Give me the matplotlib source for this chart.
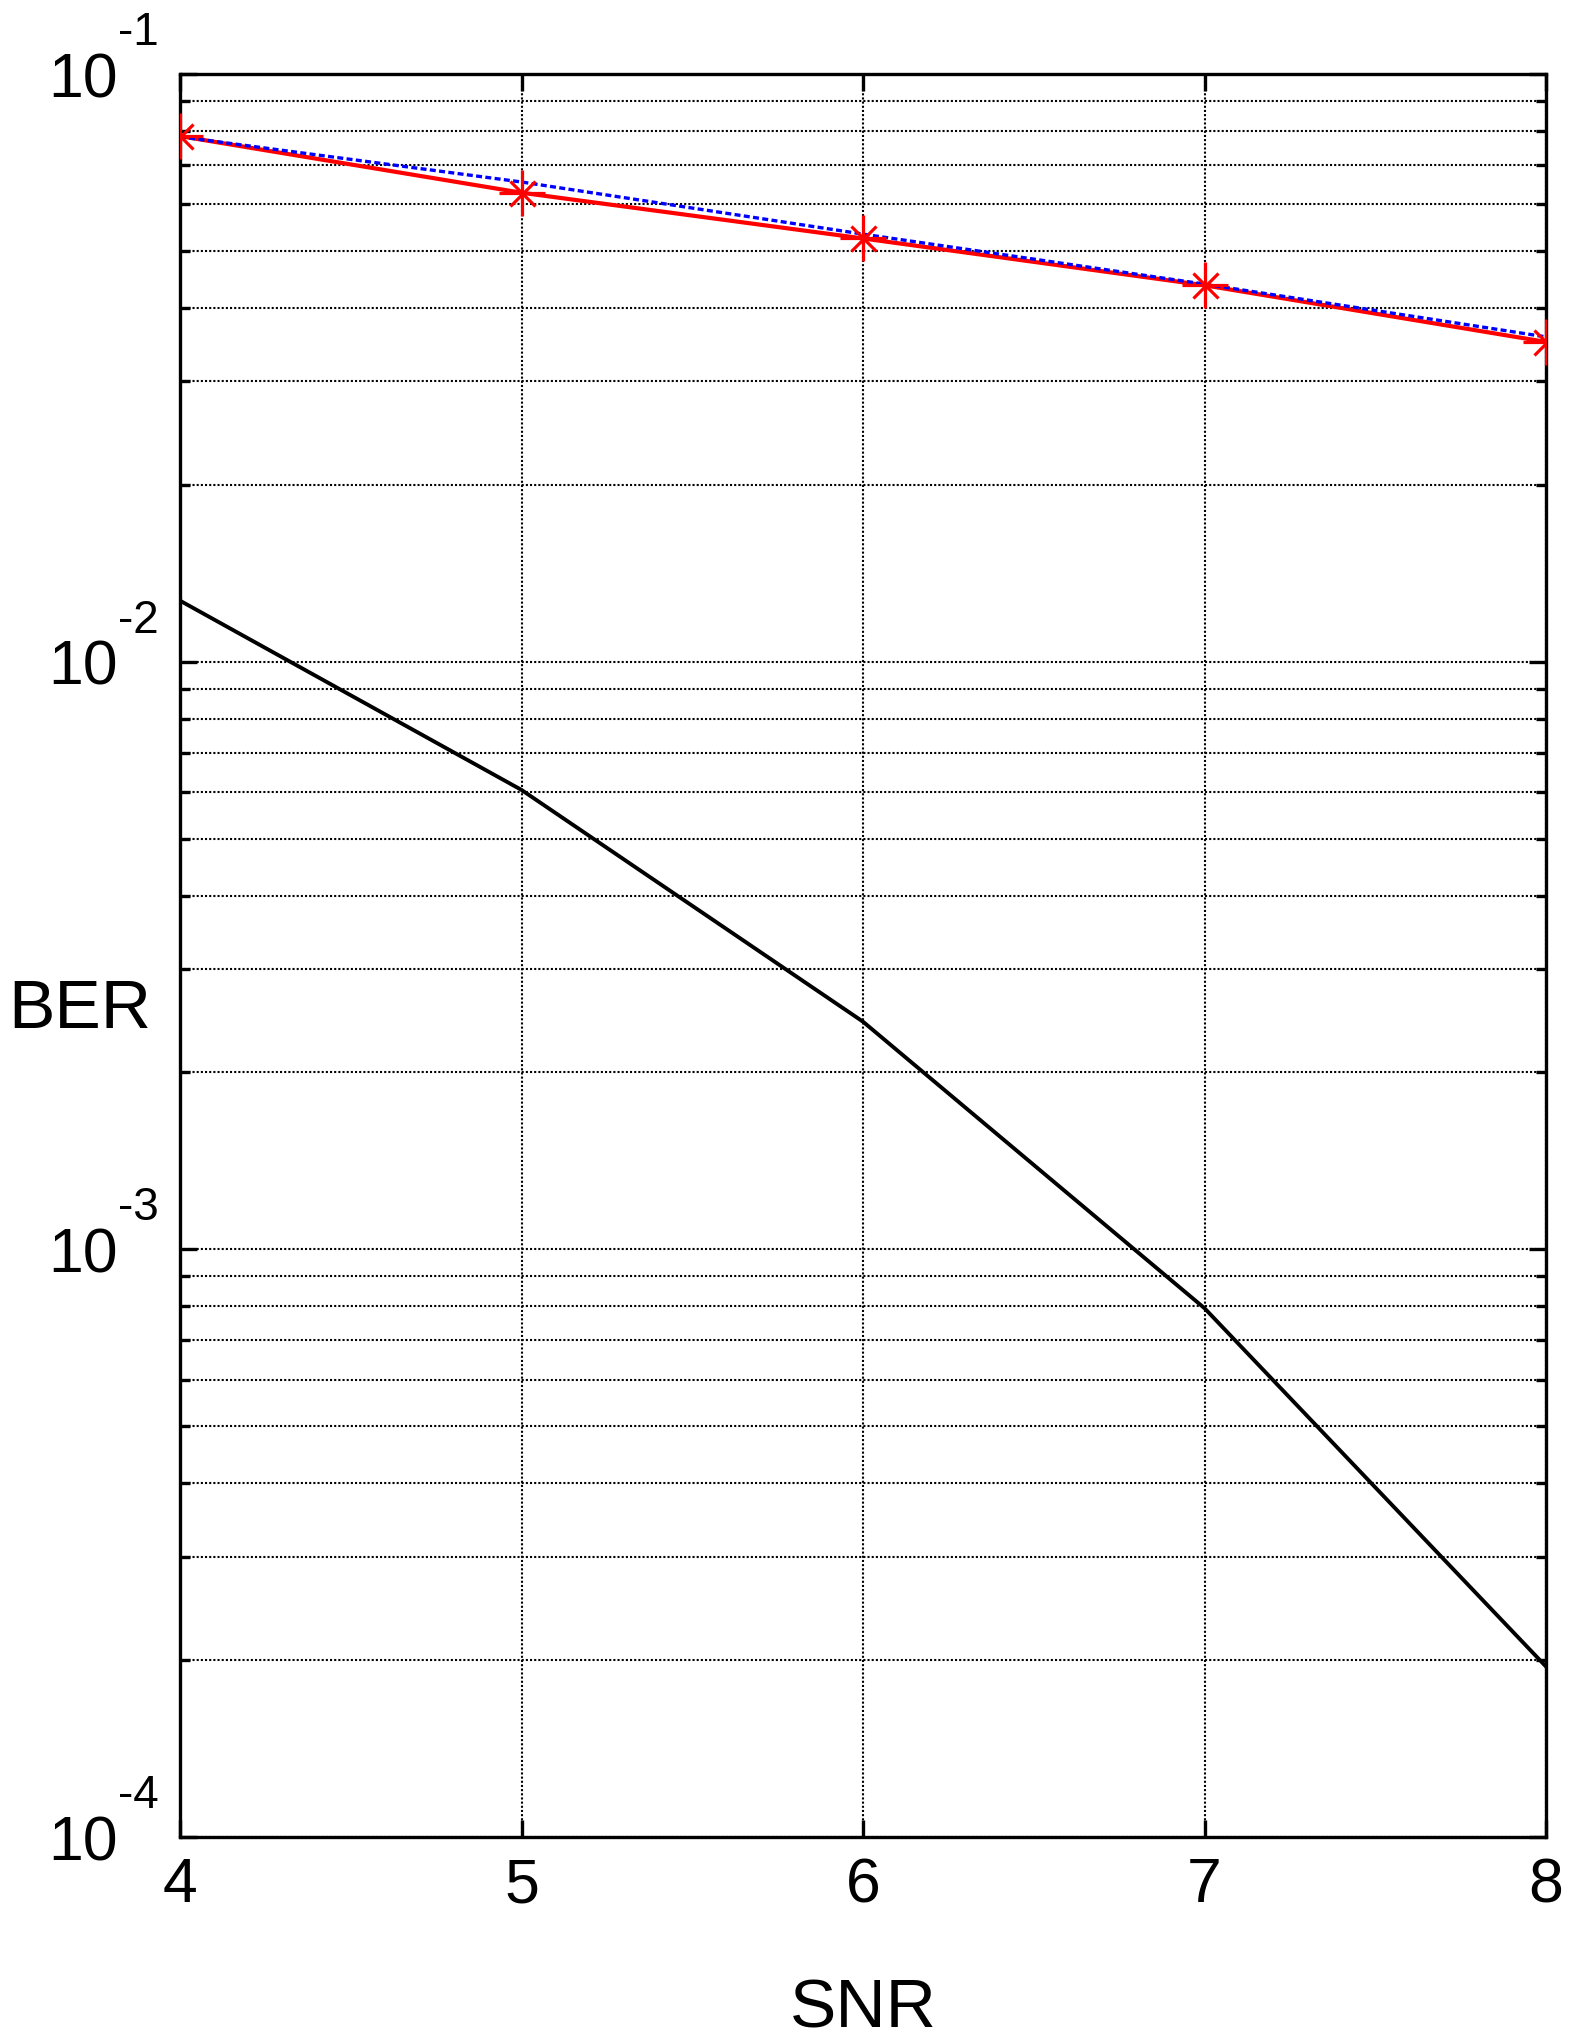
import numpy as np
import matplotlib
matplotlib.use('Agg')
from matplotlib import pyplot as plt

plt.rcParams['font.family'] = ['Liberation Sans', 'DejaVu Sans']

snr = [4, 5, 6, 7, 8]
ber_red = [0.0784, 0.0628, 0.0525, 0.0437, 0.0350]
ber_blue = [0.0782, 0.0655, 0.0534, 0.0439, 0.0357]
ber_black = [0.0127, 0.00605, 0.00244, 7.94e-4, 1.95e-4]

y_major = [1e-4, 1e-3, 1e-2, 1e-1]
y_exps = ['-4', '-3', '-2', '-1']
x_ticks = [4, 5, 6, 7, 8]

fig = plt.figure(figsize=(15.70, 20.42), dpi=100)
ax = fig.add_axes([180 / 1570, 1 - 1837 / 2042, 1366 / 1570, 1763 / 2042])

# curves (matlab-style '*' = '+' and a smaller 'x')
ax.plot(snr, ber_red, color='red', lw=3.0, zorder=3)
ax.plot(snr, ber_red, ls='none', color='red', marker='+', ms=33, mew=2.3, zorder=5)
ax.plot(snr, ber_red, ls='none', color='red', marker='x', ms=18, mew=2.3, zorder=5)
ax.plot(snr, ber_blue, color='blue', lw=2.4, ls=(0, (1.8, 1.0)), zorder=4)
ax.plot(snr, ber_black, color='black', lw=2.8, zorder=3)

ax.set_yscale('log')
ax.set_xlim(4, 8)
ax.set_ylim(1e-4, 1e-1)

ax.set_xticks(x_ticks)
ax.set_xticklabels([str(t) for t in x_ticks])
ax.set_yticks(y_major)
ax.set_yticklabels(['10'] * len(y_major))

# exponents drawn raised like the original
for v, e in zip(y_major, y_exps):
    ax.annotate(e, xy=(0, v), xycoords=('axes fraction', 'data'),
                xytext=(-45, 21), textcoords='offset points',
                ha='left', va='baseline', fontsize=33, annotation_clip=False)

ax.tick_params(which='both', direction='in', top=True, right=True, width=2.4)
ax.tick_params(which='major', length=12, labelsize=45)
ax.tick_params(axis='x', which='major', pad=14)
ax.tick_params(axis='y', which='major', pad=45)
ax.tick_params(which='minor', length=7)

ax.grid(True, which='both', color='black', ls=(0, (1, 1)), lw=1.5)
for s in ax.spines.values():
    s.set_linewidth(2.4)

ax.set_xlabel('SNR', fontsize=50, va='baseline')
ax.xaxis.set_label_coords(0.5, -0.1083)
ax.set_ylabel('BER', fontsize=50, rotation=0, ha='left', va='center')
ax.yaxis.set_label_coords(-0.1259, 0.469)

fig.savefig('out.png', dpi=100)
